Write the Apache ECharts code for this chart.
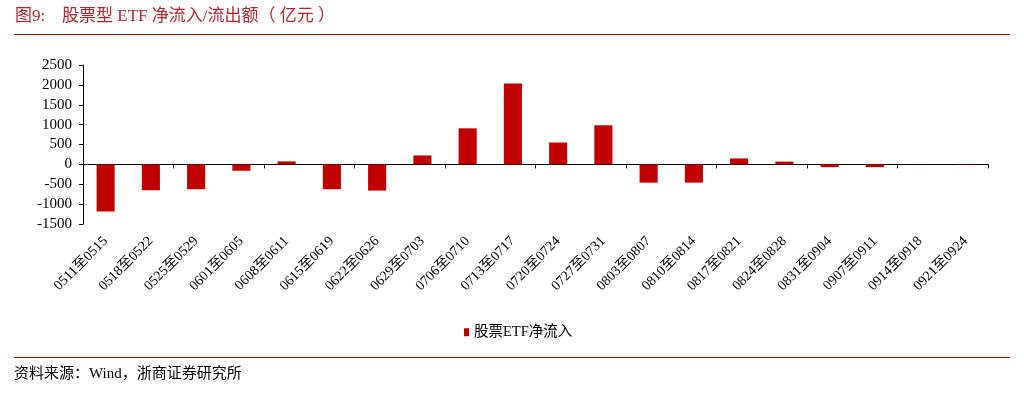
<!DOCTYPE html>
<html>
<head>
    <meta charset="UTF-8">
    <title>股票型 ETF 净流入/流出额</title>
    <script src="https://cdn.jsdelivr.net/npm/echarts@6/dist/echarts.min.js"></script>
    <style>
        html, body { margin: 0; padding: 0; background: #fff; }
        #main { width: 1024px; height: 397px; }
    </style>
</head>
<body>
    <div id="main"></div>
    <script type="text/javascript">
        // 周度区间
        const weeks = ['0511至0515', '0518至0522', '0525至0529', '0601至0605', '0608至0611',
            '0615至0619', '0622至0626', '0629至0703', '0706至0710', '0713至0717',
            '0720至0724', '0727至0731', '0803至0807', '0810至0814', '0817至0821',
            '0824至0828', '0831至0904', '0907至0911', '0914至0918', '0921至0924'];
        // 股票ETF净流入（亿元）
        const netInflow = [-1185, -650, -625, -160, 75, -625, -660, 225, 907, 2033,
            550, 983, -460, -460, 150, 70, -70, -70, 5, -10];
        const yTicks = [-1500, 2500, 500]; // min, max, interval

        const serif = '"Liberation Serif", "Noto Sans CJK SC", serif';
        const red = '#c00000';

        var myChart = echarts.init(document.getElementById('main'));

        var option = {
            animation: false,
            grid: { left: 83, right: 36, top: 65, bottom: 173 },
            legend: {
                data: ['股票ETF净流入'],
                left: 459,
                top: 320,
                itemWidth: 5,
                itemHeight: 8,
                itemGap: 4,
                itemStyle: { borderWidth: 0 },
                icon: 'rect',
                textStyle: { fontFamily: serif, fontSize: 14.5, color: '#000' }
            },
            graphic: [
                {
                    type: 'text', left: 15, top: 8,
                    style: { text: '图9:', font: '17px ' + serif, fill: '#b5262b' }
                },
                {
                    type: 'text', left: 62, top: 8,
                    style: { text: '股票型 ETF 净流入/流出额（ 亿元 ）', font: '17px ' + serif, fill: '#b5262b' }
                },
                {
                    type: 'line', shape: { x1: 14, y1: 34.5, x2: 1010, y2: 34.5 },
                    style: { stroke: red, lineWidth: 1 }
                },
                {
                    type: 'line', shape: { x1: 14, y1: 357.5, x2: 1010, y2: 357.5 },
                    style: { stroke: red, lineWidth: 1 }
                },
                {
                    type: 'text', left: 14, top: 367,
                    style: { text: '资料来源：Wind，浙商证券研究所', font: '15px ' + serif, fill: '#000' }
                }
            ],
            xAxis: [
                {
                    type: 'category',
                    data: weeks,
                    axisLine: { onZero: true, lineStyle: { color: '#000', width: 1 } },
                    axisTick: { show: true, length: 4, lineStyle: { color: '#000' } },
                    axisLabel: { show: false }
                },
                {
                    type: 'category',
                    data: weeks,
                    position: 'bottom',
                    axisLine: { show: false, onZero: false },
                    axisTick: { show: false },
                    axisLabel: {
                        rotate: 45,
                        margin: 15,
                        interval: 0,
                        fontFamily: serif,
                        fontSize: 14,
                        color: '#000'
                    }
                }
            ],
            yAxis: {
                type: 'value',
                min: yTicks[0],
                max: yTicks[1],
                interval: yTicks[2],
                axisLine: { show: true, lineStyle: { color: '#000' } },
                axisTick: { show: true, length: 4, lineStyle: { color: '#000' } },
                axisLabel: {
                    fontFamily: serif,
                    fontSize: 15,
                    color: '#000',
                    margin: 11,
                    formatter: function (v) { return String(v); }
                },
                splitLine: { show: false }
            },
            series: [
                {
                    name: '股票ETF净流入',
                    type: 'bar',
                    barWidth: '40%',
                    itemStyle: { color: red },
                    data: netInflow
                }
            ]
        };

        myChart.setOption(option);
    </script>
</body>
</html>
